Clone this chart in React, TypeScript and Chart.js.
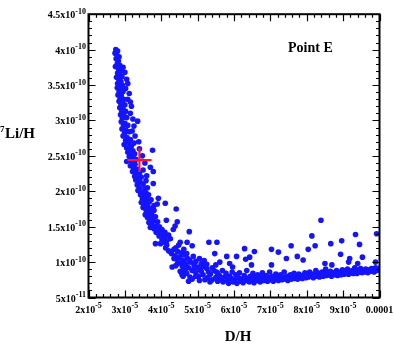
import React, { useEffect, useRef } from 'react';
import { Chart, registerables } from 'chart.js';

Chart.register(...registerables);

// D/H in units of 1e-5, 7Li/H in units of 1e-10
const steepBranch: [number, number][] = [
  [2.75,4.00],[2.80,3.98],[2.73,3.95],[2.78,3.92],[2.84,3.90],[2.76,3.87],[2.82,3.84],[2.79,3.80],[2.86,3.78],[2.74,3.76],
  [2.83,3.72],[2.88,3.70],[2.80,3.67],[2.86,3.64],[2.77,3.61],[2.92,3.62],[2.83,3.58],[2.89,3.55],[2.80,3.52],[2.86,3.49],
  [2.93,3.50],[2.79,3.46],[2.88,3.44],[2.84,3.40],[2.95,3.41],[2.81,3.36],[2.90,3.35],[2.87,3.31],[2.97,3.30],[2.84,3.27],
  [2.93,3.25],[2.89,3.21],[3.00,3.22],[2.86,3.18],[2.95,3.16],[2.91,3.12],[3.02,3.13],[2.88,3.08],[2.98,3.06],[2.93,3.03],
  [3.05,3.04],[3.35,2.99],[2.90,2.98],[3.00,2.96],[2.96,2.92],[3.08,2.93],[2.92,2.88],[3.03,2.86],[2.99,2.82],[3.12,2.84],
  [2.95,2.78],[3.06,2.76],[3.02,2.72],[3.15,2.73],[3.10,2.68],[2.98,2.66],[3.18,2.64],[3.05,2.61],[3.13,2.60],[3.76,2.58],
  [3.22,2.57],[3.08,2.55],[3.17,2.52],[3.27,2.53],[3.12,2.49],[3.23,2.47],[3.05,2.42],[3.30,2.45],[3.18,2.42],[3.28,2.38],
  [3.15,2.36],[3.70,2.34],[3.78,2.28],[3.24,2.33],[3.34,2.31],[3.21,2.28],[3.30,2.25],[3.40,2.26],[3.27,2.21],[3.37,2.19],
  [3.45,2.20],[3.78,2.11],[3.30,2.16],[3.42,2.13],[3.34,2.09],[3.50,2.10],[3.40,2.05],[3.55,2.04],[3.36,2.01],[3.47,1.99],
  [3.58,1.98],[3.43,1.95],[3.52,1.93],[3.92,1.90],[3.62,1.91],[3.48,1.89],[3.57,1.86],[3.45,1.84],[3.67,1.85],[3.53,1.81],
  [3.62,1.79],[3.50,1.77],[3.89,1.82],[4.11,1.83],[4.41,1.75],[3.72,1.76],[3.58,1.74],[3.68,1.72],[3.80,1.73],[3.65,1.69],
  [3.56,1.67],[3.75,1.66],[3.62,1.63],[3.84,1.64],[4.14,1.59],[4.44,1.57],[3.70,1.61],[3.78,1.58],[3.66,1.56],[3.90,1.57],
  [3.74,1.53],[3.86,1.51],[3.70,1.49],[3.95,1.50],[4.33,1.46],[4.38,1.51],[4.77,1.43],[3.80,1.47],[3.92,1.45],[4.02,1.46],
  [3.86,1.42],[4.00,1.40],[4.10,1.42],[3.94,1.37],[4.08,1.35],[4.20,1.38],[4.02,1.32],[4.15,1.30],[4.25,1.33],[3.84,1.26],
  [3.98,1.26],[4.10,1.28],[4.52,1.28],[4.71,1.28],[5.31,1.28],[5.53,1.28],[4.85,1.23],
  [3.00,3.68],[3.05,3.58],[3.02,3.45],[3.12,3.38],[3.08,3.30],[3.18,3.20],[3.15,3.10],[3.22,3.02],[3.25,2.92],[3.20,2.85],
  [3.28,2.78],[3.25,2.68],[2.95,3.75],[3.08,3.52],[3.15,3.26],[3.55,2.40],[3.50,2.30],[3.60,2.22],[3.58,2.15],[3.62,2.05],
  [3.48,2.50],[3.40,2.60],[3.38,2.70],[3.65,1.95],[3.72,1.88],[3.80,1.80]
];

const kneeBranch: [number, number][] = [
  [4.12,1.20],[4.35,1.18],[4.20,1.16],[4.45,1.15],[4.28,1.12],[4.55,1.13],[5.47,1.12],[4.38,1.09],[4.50,1.07],[4.62,1.10],
  [5.80,1.08],[4.42,1.04],[4.60,1.02],[4.72,1.05],[5.61,1.00],[4.30,0.93],[4.52,0.99],[4.68,0.97],[4.80,1.00],[4.58,0.94],
  [4.75,0.92],[4.90,0.96],[5.00,0.93],[4.65,0.89],[4.85,0.88],[5.05,0.90],[5.15,0.94],[4.55,0.86],[4.95,0.85],[5.10,0.87],
  [5.25,0.91],[4.57,0.82],[4.79,0.79],[5.20,0.75],[5.34,0.72],[5.02,0.80],[5.35,0.83],[5.45,0.88],[4.15,1.24],[4.25,1.15],
  [4.40,1.20],[4.48,1.24],[4.35,1.05],[4.45,0.98],[4.62,1.18],[4.70,1.12],[4.78,1.03],[4.88,1.08],[4.95,1.01],[5.05,1.05],
  [5.10,0.98],[5.18,1.02],[5.25,0.97],[4.90,0.90],[5.30,0.86],[5.40,0.92],[5.50,0.96],[5.55,0.84],[4.62,1.00],[4.40,0.95],
  [4.52,0.87],[4.60,0.80],[4.70,0.84],[4.85,0.76],[4.95,0.80],[5.05,0.74],[5.15,0.82],[5.28,0.78],[5.40,0.75],[4.75,0.73]
];

const flatBranch: [number, number][] = [
  [5.50,0.78],[5.52,0.86],[5.55,0.73],[5.60,0.81],[5.63,0.75],[5.68,0.88],[5.70,0.72],[5.74,0.79],[5.78,0.84],[5.82,0.74],
  [5.85,0.70],[5.88,0.80],[5.92,0.77],[5.95,0.86],[5.98,0.72],[6.02,0.75],[6.05,0.82],[6.08,0.70],[6.12,0.78],[6.15,0.85],
  [6.18,0.73],[6.22,0.76],[6.25,0.71],[6.28,0.81],[6.32,0.74],[6.35,0.88],[6.38,0.77],[6.42,0.72],[6.45,0.80],[6.48,0.75],
  [6.52,0.84],[6.55,0.71],[6.58,0.78],[6.62,0.74],[6.65,0.82],[6.68,0.76],[6.72,0.72],[6.75,0.79],[6.78,0.85],[6.82,0.74],
  [6.85,0.77],[6.88,0.81],[6.92,0.73],[6.95,0.78],[6.98,0.86],[7.02,0.75],[7.05,0.80],[7.08,0.73],[7.12,0.77],[7.15,0.83],
  [7.18,0.76],[7.22,0.74],[7.25,0.79],[7.28,0.82],[7.32,0.75],[7.35,0.78],[7.38,0.86],[7.42,0.76],[7.45,0.80],[7.48,0.74],
  [7.52,0.78],[7.55,0.82],[7.58,0.76],[7.62,0.79],[7.65,0.84],[7.68,0.77],[7.72,0.80],[7.75,0.76],[7.78,0.83],[7.82,0.78],
  [7.85,0.81],[7.88,0.77],[7.92,0.80],[7.95,0.85],[7.98,0.78],[8.02,0.81],[8.05,0.79],[8.08,0.86],[8.12,0.80],[8.15,0.83],
  [8.18,0.78],[8.22,0.82],[8.25,0.88],[8.28,0.80],[8.32,0.84],[8.35,0.79],[8.38,0.82],[8.42,0.86],[8.45,0.80],[8.48,0.83],
  [8.52,0.90],[8.55,0.81],[8.58,0.84],[8.62,0.82],[8.65,0.87],[8.68,0.80],[8.72,0.83],[8.75,0.85],[8.78,0.82],[8.82,0.88],
  [8.85,0.81],[8.88,0.84],[8.92,0.86],[8.95,0.82],[8.98,0.89],[9.02,0.83],[9.05,0.86],[9.08,0.84],[9.12,0.90],[9.15,0.83],
  [9.18,0.87],[9.22,0.85],[9.25,0.88],[9.28,0.84],[9.32,0.92],[9.35,0.86],[9.38,0.84],[9.42,0.89],[9.45,0.86],[9.48,0.91],
  [9.52,0.85],[9.55,0.88],[9.58,0.86],[9.62,0.90],[9.65,0.87],[9.68,0.85],[9.72,0.89],[9.75,0.87],[9.78,0.91],[9.82,0.88],
  [9.85,0.86],[9.88,0.90],[9.92,0.88],[9.95,0.91],[9.98,0.89]
];

const scatteredPoints: [number, number][] = [
  [6.29,1.19],[6.56,1.15],[6.32,1.04],[6.07,1.08],[6.43,1.07],[7.03,1.18],[7.22,1.14],[7.57,1.23],[7.74,1.08],[7.44,1.05],
  [7.90,1.03],[8.04,1.18],[8.23,1.23],[8.14,1.37],[8.39,1.59],[8.66,1.26],[8.96,1.30],[8.93,1.11],[9.34,1.39],[9.45,1.25],
  [9.18,1.05],[9.15,1.00],[9.40,0.98],[9.53,1.07],[9.92,1.40],[9.89,1.00],[8.50,0.98],[7.03,0.96],[6.48,0.96],[5.96,0.93],
  [5.88,0.98],[8.69,0.96],[9.89,0.92]
];

const pointE: [number, number][] = [[3.40, 2.44]];

const xTickValues = [2, 3, 4, 5, 6, 7, 8, 9, 10];
const xTickLabels = ['2x10^-5', '3x10^-5', '4x10^-5', '5x10^-5', '6x10^-5', '7x10^-5', '8x10^-5', '9x10^-5', '0.0001'];
const yTickValues = [4.5, 4, 3.5, 3, 2.5, 2, 1.5, 1, 0.5];
const yTickLabels = ['4.5x10^-10', '4x10^-10', '3.5x10^-10', '3x10^-10', '2.5x10^-10', '2x10^-10', '1.5x10^-10', '1x10^-10', '5x10^-11'];

const SERIF = '"Liberation Serif", "Times New Roman", serif';

function drawSupText(ctx: CanvasRenderingContext2D, text: string, x: number, y: number, align: string, baseSize: number, supSize: number, raise: number) {
  const parts = text.split('^');
  const base = parts[0];
  const sup = parts[1] || '';
  const baseFont = `bold ${baseSize}px ${SERIF}`;
  const supFont = `bold ${supSize}px ${SERIF}`;
  ctx.font = baseFont;
  const wb = ctx.measureText(base).width;
  ctx.font = supFont;
  const ws = sup ? ctx.measureText(sup).width : 0;
  const total = wb + ws;
  let start = x;
  if (align === 'right') start = x - total;
  else if (align === 'center') start = x - total / 2;
  ctx.textAlign = 'left';
  ctx.textBaseline = 'alphabetic';
  ctx.font = baseFont;
  ctx.fillText(base, start, y);
  if (sup) {
    ctx.font = supFont;
    ctx.fillText(sup, start + wb, y - raise);
  }
}

const framePlugin = {
  id: 'frameAndLabels',
  afterDatasetsDraw(chart: any) {
    const { ctx, chartArea: a, scales } = chart;
    const xs = scales.x;
    const ys = scales.y;
    ctx.save();
    ctx.strokeStyle = '#000';
    ctx.fillStyle = '#000';
    // minor + major ticks on x (bottom and top)
    ctx.lineWidth = 1.2;
    for (let i = 0; i <= 40; i++) {
      const v = 2 + i * 0.2;
      const px = Math.round(xs.getPixelForValue(v)) + 0.5;
      const len = i % 5 === 0 ? 7 : 3.5;
      ctx.beginPath();
      ctx.moveTo(px, a.bottom);
      ctx.lineTo(px, a.bottom - len);
      ctx.moveTo(px, a.top);
      ctx.lineTo(px, a.top + len);
      ctx.stroke();
    }
    for (let i = 0; i <= 40; i++) {
      const v = 0.5 + i * 0.1;
      const py = Math.round(ys.getPixelForValue(v)) + 0.5;
      const len = i % 5 === 0 ? 7 : 3.5;
      ctx.beginPath();
      ctx.moveTo(a.left, py);
      ctx.lineTo(a.left + len, py);
      ctx.moveTo(a.right, py);
      ctx.lineTo(a.right - len, py);
      ctx.stroke();
    }
    // frame
    ctx.lineWidth = 2;
    ctx.strokeRect(a.left, a.top, a.right - a.left, a.bottom - a.top);

    // tick labels
    xTickValues.forEach((v, i) => {
      const px = xs.getPixelForValue(v);
      drawSupText(ctx, xTickLabels[i], px, a.bottom + 15, 'center', 10, 8, 4.5);
    });
    yTickValues.forEach((v, i) => {
      const py = ys.getPixelForValue(v);
      drawSupText(ctx, yTickLabels[i], a.left - 2.5, py + 4, 'right', 10, 8, 4.5);
    });

    // axis titles
    ctx.textAlign = 'center';
    ctx.textBaseline = 'alphabetic';
    ctx.font = `bold 15px ${SERIF}`;
    ctx.fillText('D/H', 238, 341);
    ctx.textAlign = 'left';
    ctx.font = `bold 9px ${SERIF}`;
    ctx.fillText('7', 0, 132);
    ctx.font = `bold 15px ${SERIF}`;
    ctx.fillText('Li/H', 5, 137.5);

    // annotation
    ctx.font = `bold 14px ${SERIF}`;
    ctx.fillText('Point E', 288, 52);
    ctx.restore();
  }
};

const toXY = (arr: [number, number][]) => arr.map(([x, y]) => ({ x, y }));

export default function App() {
  const canvasRef = useRef<HTMLCanvasElement | null>(null);
  useEffect(() => {
    const canvas = canvasRef.current;
    if (!canvas) return;
    const blue = 'rgb(20,20,255)';
    const allPoints = [...steepBranch, ...kneeBranch, ...flatBranch, ...scatteredPoints];
    const chart = new Chart(canvas, {
      type: 'scatter',
      data: {
        datasets: [
          {
            label: 'Point E',
            data: toXY(pointE),
            pointStyle: 'cross',
            pointRadius: 12,
            borderWidth: 2.2,
            borderColor: 'rgb(255,20,40)',
            backgroundColor: 'rgb(255,20,40)',
          },
          {
            label: 'scan',
            data: toXY(allPoints),
            pointRadius: 2.8,
            borderWidth: 0,
            backgroundColor: blue,
            borderColor: blue,
          },
        ],
      },
      options: {
        responsive: false,
        animation: false,
        devicePixelRatio: 1,
        layout: { padding: { left: 0, right: 14.5, top: 9, bottom: 0 } },
        plugins: { legend: { display: false }, tooltip: { enabled: false } },
        scales: {
          x: {
            type: 'linear',
            min: 2,
            max: 10,
            grid: { display: false },
            border: { display: false },
            ticks: { display: false },
            afterFit: (s: any) => { s.height = 48.5; },
          },
          y: {
            type: 'linear',
            min: 0.5,
            max: 4.5,
            grid: { display: false },
            border: { display: false },
            ticks: { display: false },
            afterFit: (s: any) => { s.width = 88.5; },
          },
        },
      },
      plugins: [framePlugin],
    });
    return () => chart.destroy();
  }, []);
  return (
    <div style={{ position: 'fixed', left: 0, top: 0, width: 394, height: 346, background: '#fff' }}>
      <canvas ref={canvasRef} width={394} height={346} style={{ display: 'block' }} />
    </div>
  );
}
